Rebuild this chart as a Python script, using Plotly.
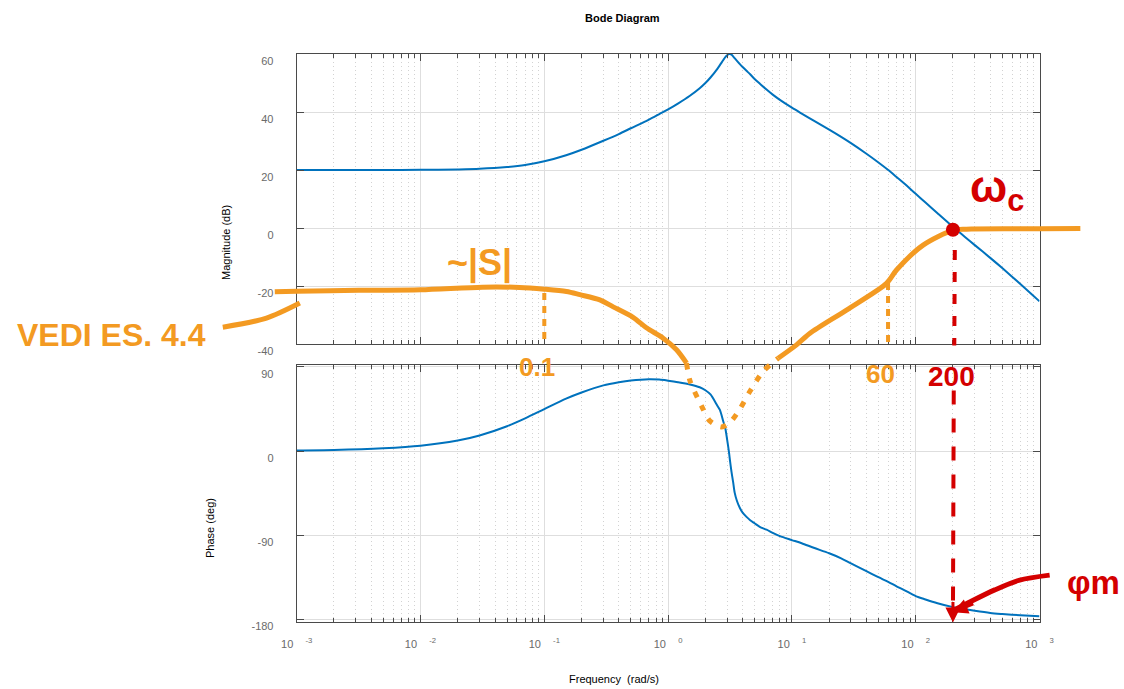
import plotly.graph_objects as go

W, H = 1124, 689

# ---------------- data ----------------
freq = [0.001, 0.002, 0.005, 0.01, 0.02, 0.03, 0.05, 0.07, 0.1, 0.15, 0.2, 0.3, 0.4, 0.5, 0.7, 0.85,
        1.0, 1.2, 1.5, 1.8, 2.0, 2.2, 2.5, 2.62, 2.8, 2.9, 3.0, 3.1, 3.16, 3.25, 3.35, 3.45, 3.6, 3.8,
        4.0, 4.3, 4.6, 5.0, 5.5, 6.24, 7.0, 8.0, 10, 12, 15, 20, 25, 30, 40, 50, 60, 70, 80,
        100, 120, 150, 200, 250, 300, 400, 500, 700, 1000]
mag_db = [20.0, 20.0, 20.01, 20.05, 20.2, 20.4, 21.0, 21.7, 23.0, 25.1, 27.0, 30.1, 32.4, 34.4, 37.4, 39.3,
          40.9, 42.9, 45.6, 48.2, 50.0, 51.9, 54.9, 56.15, 58.0, 58.9, 59.55, 59.95, 60.0, 59.8, 59.2, 58.56, 57.64, 56.5,
          55.5, 54.2, 53.0, 51.4, 49.8, 47.75, 46.0, 44.2, 41.5, 39.45, 37.0, 33.9, 31.4, 29.25, 25.6, 22.6, 20.0, 17.6, 15.5,
          11.8, 8.8, 5.1, 0.4, -3.1, -5.9, -10.3, -13.8, -19.3, -25.3]
phase_deg = [0.6, 1.1, 2.9, 5.6, 11.2, 16.6, 26.5, 34.9, 44.8, 56.0, 62.6, 70.2, 73.5, 75.4, 76.8, 76.4,
             75.2, 73.6, 71.2, 68.2, 65.0, 60.5, 48.5, 43.9, 31.0, 24.0, 12.0, -1.0, -10.0, -22.0, -33.0, -44.5, -53.5, -61.0,
             -66.0, -70.5, -74.0, -77.3, -81.1, -84.2, -87.6, -91.1, -95.3, -98.7, -103.5, -109.4, -114.8, -120.3, -128.5, -135.0, -140.0, -144.8, -148.5,
             -155.2, -158.8, -162.8, -167.0, -169.3, -171.0, -173.3, -174.4, -175.7, -176.8]

x_tickvals = [1e-3, 1e-2, 1e-1, 1e0, 1e1, 1e2, 1e3]
x_exponents = ["-3", "-2", "-1", "0", "1", "2", "3"]
mag_ticks = [-40, -20, 0, 20, 40, 60]
mag_ticktext = ["-40", "-20", "0", "20", "40", "60"]
phase_ticks = [-180, -90, 0, 90]
phase_ticktext = ["-180", "-90", "0", "90"]

# hand-drawn annotation strokes (frequency in rad/s, level in dB of the magnitude scale)
orange_solid1_f = [0.000665, 0.001, 0.00316, 0.01, 0.0316, 0.063, 0.1, 0.151, 0.194, 0.281,
                   0.36, 0.521, 0.668, 0.912, 1.17, 1.41]
orange_solid1_db = [-22.0, -21.8, -21.5, -21.3, -20.4, -20.5, -21.1, -21.9, -23.0, -24.8,
                    -27.2, -30.8, -34.4, -38.0, -42.0, -46.6]
orange_dot_f = [1.41, 1.50, 1.86, 2.17, 2.70, 3.15, 3.79, 4.57, 5.85, 7.74]
orange_dot_db = [-46.6, -52.6, -61.3, -66.5, -68.6, -67.1, -62.5, -56.4, -49.5, -44.9]
orange_solid2_f = [7.74, 10.9, 14.0, 27.6, 58.1, 70.0, 114.8, 199.5, 257, 1000, 2138]
orange_solid2_db = [-44.9, -40.3, -36.3, -28.3, -19.1, -14.5, -5.9, -0.8, -0.4, -0.3, -0.2]
orange_drop1_f = [0.1, 0.1]
orange_drop1_db = [-22.4, -39.7]
orange_drop2_f = [59.8, 59.8]
orange_drop2_db = [-19.0, -40.9]
leader_f = [0.000253, 0.00057, 0.00106]
leader_db = [-34.2, -31.1, -25.9]

red_drop_top_f = [207, 205]
red_drop_top_db = [-7.6, -40.5]
red_drop_bot_f = [203, 200]
red_drop_bot_db = [-56.0, -133.0]
wc_f = [200]
wc_db = [-0.6]
phim_f = [1208, 692, 435, 273, 200]
phim_db = [-119.7, -121.4, -124.8, -129.0, -132.0]

# ---------------- layout geometry ----------------
X_DOM = [296.7 / W, 1039.5 / W]
MAG_DOM = [1 - 344.0 / H, 1 - 54.0 / H]
PH_DOM = [1 - 621.7 / H, 1 - 365.0 / H]
SHEET_X = [-5.3966, 3.6826]
SHEET_Y = [-158.97, 78.62]

BLUE = "#0072BD"
ORANGE = "#F39A22"
RED = "#D40000"
FRAME = "#4a4a4a"
GRID = "#dedede"
MINOR_GRID = "#d2d2d2"
TICKFONT = dict(family="Liberation Sans, Arial", size=11, color="#6a6a6a")

fig = go.Figure()
fig.add_trace(go.Scatter(x=freq, y=mag_db, mode="lines", xaxis="x", yaxis="y",
                         line=dict(color=BLUE, width=2, shape="spline", smoothing=0.8),
                         showlegend=False, hoverinfo="skip"))
fig.add_trace(go.Scatter(x=freq, y=phase_deg, mode="lines", xaxis="x2", yaxis="y2",
                         line=dict(color=BLUE, width=2, shape="spline", smoothing=0.8),
                         showlegend=False, hoverinfo="skip"))


def sheet(xs, ys, color, width, dash=None):
    fig.add_trace(go.Scatter(x=xs, y=ys, mode="lines", xaxis="x3", yaxis="y3",
                             line=dict(color=color, width=width, dash=dash, shape="spline", smoothing=0.8),
                             showlegend=False, hoverinfo="skip"))


sheet(orange_solid1_f, orange_solid1_db, ORANGE, 5)
sheet(orange_dot_f, orange_dot_db, ORANGE, 5, "6px,9px")
sheet(orange_solid2_f, orange_solid2_db, ORANGE, 5)
sheet(orange_drop1_f, orange_drop1_db, ORANGE, 4, "7px,6px")
sheet(orange_drop2_f, orange_drop2_db, ORANGE, 4, "7px,6px")
sheet(leader_f, leader_db, ORANGE, 5)
sheet(red_drop_top_f, red_drop_top_db, RED, 4, "10px,12px")
sheet(red_drop_bot_f, red_drop_bot_db, RED, 4, "14px,14px")
sheet(phim_f, phim_db, RED, 5)
fig.add_trace(go.Scatter(x=wc_f, y=wc_db, mode="markers", xaxis="x3", yaxis="y3",
                         marker=dict(color=RED, size=14), showlegend=False, hoverinfo="skip"))

common_x = dict(type="log", range=[-3, 3], domain=X_DOM, tickvals=x_tickvals, automargin=False,
                ticks="inside", ticklen=7, tickcolor=FRAME, showline=True, linecolor=FRAME,
                linewidth=1, mirror="allticks", showgrid=True, gridcolor=GRID, gridwidth=1,
                zeroline=False,
                minor=dict(ticks="inside", ticklen=4, tickcolor=FRAME, showgrid=True,
                           gridcolor=MINOR_GRID, griddash="1px,3px", dtick="D1"))
common_y = dict(ticks="inside", ticklen=7, tickcolor=FRAME, showline=True, linecolor=FRAME,
                linewidth=1, mirror="allticks", showgrid=True, gridcolor=GRID, zeroline=False,
                automargin=False, tickfont=TICKFONT, ticklabelshift=7, ticklabelstandoff=20)

fig.update_layout(
    template="none",
    width=W, height=H, margin=dict(l=0, r=0, t=0, b=0, pad=0), autosize=False,
    font=dict(family="Liberation Sans, Arial", size=11, color="black"),
    paper_bgcolor="white", plot_bgcolor="rgba(0,0,0,0)",
    xaxis=dict(common_x, anchor="y", showticklabels=False),
    yaxis=dict(common_y, domain=MAG_DOM, anchor="x", range=[-40, 60],
               tickvals=mag_ticks, ticktext=mag_ticktext),
    xaxis2=dict(common_x, anchor="y2", showticklabels=True,
                ticktext=["10\u00a0\u00a0\u00a0\u00a0<sup>%s</sup>" % e for e in x_exponents],
                tickfont=TICKFONT, ticklabelstandoff=12),
    yaxis2=dict(common_y, domain=PH_DOM, anchor="x2", range=[-182.6, 92.0],
                tickvals=phase_ticks, ticktext=phase_ticktext),
    xaxis3=dict(type="log", domain=[0, 1], anchor="y3", range=SHEET_X, visible=False, automargin=False),
    yaxis3=dict(domain=[0, 1], anchor="x3", range=SHEET_Y, visible=False, automargin=False),
)


def px(x, y):
    return x / W, 1 - y / H


def label(text, x, y, size, color="black", bold=False, angle=0, family="Liberation Sans, Arial"):
    ax_, ay_ = px(x, y)
    t = "<b>%s</b>" % text if bold else text
    fig.add_annotation(x=ax_, y=ay_, xref="paper", yref="paper", text=t, showarrow=False,
                       xanchor="center", yanchor="middle", textangle=angle,
                       font=dict(family=family, size=size, color=color))


label("Bode Diagram", 622, 18, 11, bold=True)
label("Magnitude (dB)", 226, 243, 11, angle=-90)
label("Phase (deg)", 210, 528, 11, angle=-90)
label("Frequency\u00a0\u00a0(rad/s)", 614, 679, 11)

# handwritten notes
label("VEDI ES. 4.4", 111, 335, 32, ORANGE, bold=True)
label("~|S|", 479, 263, 36, ORANGE, bold=True)
label("0.1", 537, 367, 26, ORANGE, bold=True)
label("60", 880, 374, 26, ORANGE, bold=True)
label("200", 951, 376, 28, RED, bold=True)
label("ω<sub>c</sub>", 997, 190, 44, RED, bold=True)
label("φm", 1093, 582, 33, RED, bold=True)

# arrow heads of the red strokes
fig.add_annotation(x=2.301, y=-136.0, xref="x3", yref="y3", text="", showarrow=True,
                   ax=0, ay=-22, arrowhead=2, arrowsize=1, arrowwidth=3, arrowcolor=RED)
fig.add_annotation(x=2.30, y=-132.5, xref="x3", yref="y3", text="", showarrow=True,
                   ax=22, ay=-9, arrowhead=2, arrowsize=1, arrowwidth=3, arrowcolor=RED)

fig.write_html("out.html", config={"displayModeBar": False},
               post_script="document.body.style.margin='0';document.body.style.overflow='hidden';")
